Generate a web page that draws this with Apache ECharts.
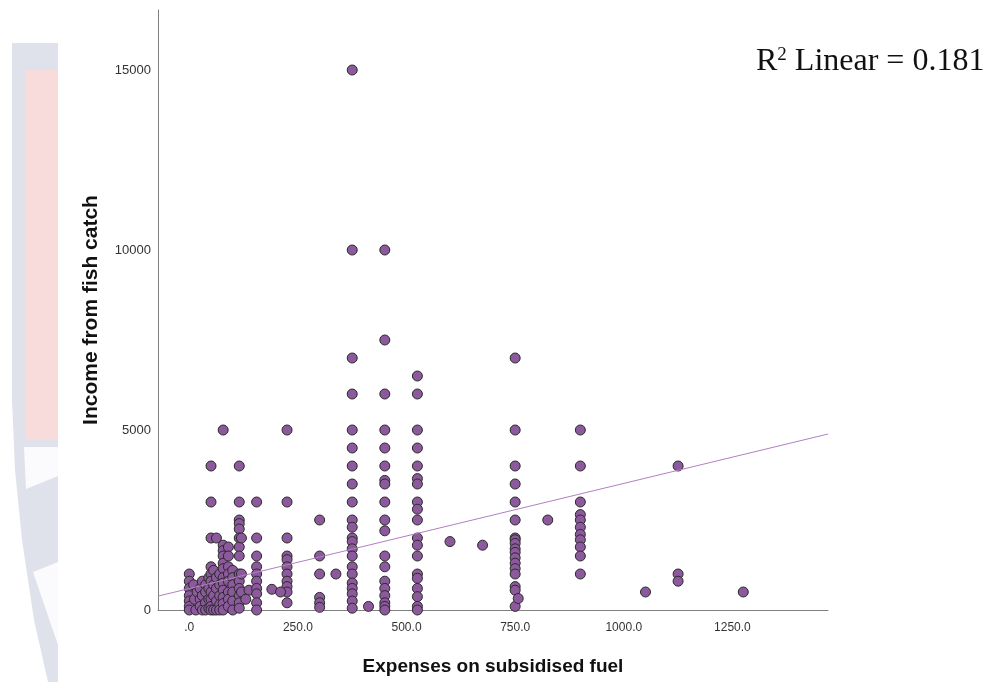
<!DOCTYPE html>
<html>
<head>
<meta charset="utf-8">
<script src="https://cdn.jsdelivr.net/npm/echarts@6/dist/echarts.min.js"></script>
<style>
  html, body { margin: 0; padding: 0; background: #fff; }
  #chart { width: 987px; height: 682px; }
</style>
</head>
<body>
<div id="chart"></div>
<script>
// axis ranges and ticks (SPSS style)
const xMin = -72, xMax = 1470;
const yMin = 0, yMax = 16667;
const xTicks = [0, 250, 500, 750, 1000, 1250];
const yTicks = [0, 5000, 10000, 15000];

// fit line
const fitIntercept = 596;
const fitSlope = 2.92;
const rSquared = '0.181';

// spend 0-150: [fuel, income]
const lowSpend = [
  [0,1000],[0,800],[0,600],[0,400],[0,250],[0,100],[0,0],
  [10,700],[12,300],[15,0],[18,500],
  [25,600],[25,300],[25,100],[30,800],[30,400],[30,0],
  [37.5,700],[37.5,500],[37.5,200],[37.5,0],
  [45,900],[45,600],[45,300],[45,50],
  [50,4000],[50,3000],[50,2000],[50,1200],[50,1000],[50,800],[50,500],[50,300],[50,100],[50,0],
  [56,1100],[56,700],[56,400],[56,0],
  [62.5,2000],[62.5,900],[62.5,600],[62.5,250],[62.5,0],
  [70,1000],[70,700],[70,400],[70,150],[70,0],
  [78,5000],[78,1800],[78,1650],[78,1500],[78,1300],[78,1150],[78,900],[78,750],[78,550],[78,350],[78,180],[78,0],
  [90,1750],[90,1500],[90,1200],[90,1000],[90,800],[90,500],[90,300],[90,100],
  [100,1100],[100,900],[100,700],[100,500],[100,250],[100,0],
  [115,4000],[115,3000],[115,2500],[115,2400],[115,2250],[115,2000],[115,1750],[115,1500],[115,1000],[115,800],[115,600],[115,400],[115,200],[115,50],
  [120,2000],[120,1000],[120,500],
  [137.5,550],[130,300],
  [155,3000],[155,2000],[155,1500],[155,1200],[155,1000],[155,800],[155,600],[155,450],[155,200],[155,0]
];

// vertical columns at common fuel amounts
const columnFuel = [225, 300, 375, 450, 525, 750, 900, 1125];
const columnIncome = [
  [5000,3000,2000,1500,1400,1200,1000,800,650,500,200],
  [2500,1500,1000,350,200,75],
  [15000,10000,7000,6000,5000,4500,4000,3500,3000,2500,2300,2000,1900,1700,1500,1200,1000,750,600,450,250,50],
  [10000,7500,6000,5000,4500,4000,3600,3500,3000,2500,2200,1500,1200,800,600,400,200,100,0],
  [6500,6000,5000,4500,4000,3650,3500,3000,2800,2500,2000,1800,1500,1000,880,600,370,100,0],
  [7000,5000,4000,3500,3000,2500,2000,1950,1850,1700,1600,1450,1300,1150,1000,650,550,100],
  [5000,4000,3000,2650,2500,2300,2100,1950,1750,1500,1000],
  [4000,1000,800]
];

// lone points
const singles = [
  [190,575],[210,500],[337.5,1000],[412.5,100],[600,1900],[675,1800],
  [757,320],[825,2500],[1050,500],[1275,500]
];

const points = lowSpend.slice();
columnFuel.forEach((fx, i) => {
  columnIncome[i].forEach(v => points.push([fx, v]));
});
singles.forEach(p => points.push(p));

const chart = echarts.init(document.getElementById('chart'));

chart.setOption({
  backgroundColor: '#fff',
  animation: false,
  grid: { left: 158, right: 159, top: 10, bottom: 72, outerBoundsMode: 'none', containLabel: false },
  xAxis: {
    type: 'value',
    min: xMin, max: xMax,
    name: 'Expenses on subsidised fuel',
    nameLocation: 'middle',
    nameGap: 47,
    nameTextStyle: { fontFamily: 'Liberation Sans, Arial', fontWeight: 'bold', fontSize: 19, color: '#111' },
    axisLine: { onZero: false, lineStyle: { color: '#808080', width: 1 } },
    axisTick: { show: false },
    splitLine: { show: false },
    axisLabel: {
      customValues: xTicks,
      margin: 12,
      fontFamily: 'Liberation Sans, Arial', fontSize: 12, color: '#333',
      formatter: v => v === 0 ? '.0' : v.toFixed(1)
    }
  },
  yAxis: {
    type: 'value',
    min: yMin, max: yMax,
    name: 'Income from fish catch',
    nameLocation: 'middle',
    nameGap: 56,
    nameTextStyle: { fontFamily: 'Liberation Sans, Arial', fontWeight: 'bold', fontSize: 21, color: '#111' },
    axisLine: { show: true, onZero: false, lineStyle: { color: '#808080', width: 1 } },
    axisTick: { show: false },
    splitLine: { show: false },
    axisLabel: {
      customValues: yTicks,
      margin: 7,
      fontFamily: 'Liberation Sans, Arial', fontSize: 13, color: '#333',
      formatter: v => String(v)
    }
  },
  graphic: [
    // faint logo behind the left edge
    { type: 'polygon', z: -10, shape: { points: [[12,43],[58,43],[58,682],[48,682],[34,620],[22,540],[15,470],[12,400]] }, style: { fill: '#dfe2eb' } },
    { type: 'rect', z: -9, shape: { x: 25, y: 70, width: 33, height: 370 }, style: { fill: '#f8dcdc' } },
    { type: 'polygon', z: -9, shape: { points: [[24,447],[58,447],[58,476],[26,489]] }, style: { fill: '#fbfbfd' } },
    { type: 'polygon', z: -9, shape: { points: [[33,572],[58,562],[58,645]] }, style: { fill: '#fbfbfd' } },
    {
      type: 'text', x: 756, y: 62,
      style: {
        text: '{b|R}{s|2}{b| Linear = ' + rSquared + '}',
        textVerticalAlign: 'middle',
        rich: {
          b: { fontFamily: 'Liberation Serif, Times New Roman', fontSize: 32, fill: '#111', verticalAlign: 'bottom' },
          s: { fontFamily: 'Liberation Serif, Times New Roman', fontSize: 19, fill: '#111', verticalAlign: 'top', padding: [0, 0, 12, 0] }
        }
      }
    }
  ],
  series: [
    {
      type: 'line',
      data: [[xMin, fitIntercept + fitSlope * xMin], [xMax, fitIntercept + fitSlope * xMax]],
      symbol: 'none',
      lineStyle: { color: '#b27fc4', width: 1 },
      z: 3
    },
    {
      type: 'scatter',
      data: points,
      symbol: 'circle',
      symbolSize: 10,
      itemStyle: { color: '#8c5a9c', borderColor: '#2a2a2a', borderWidth: 1, opacity: 1 },
      z: 2
    }
  ]
});
</script>
</body>
</html>
